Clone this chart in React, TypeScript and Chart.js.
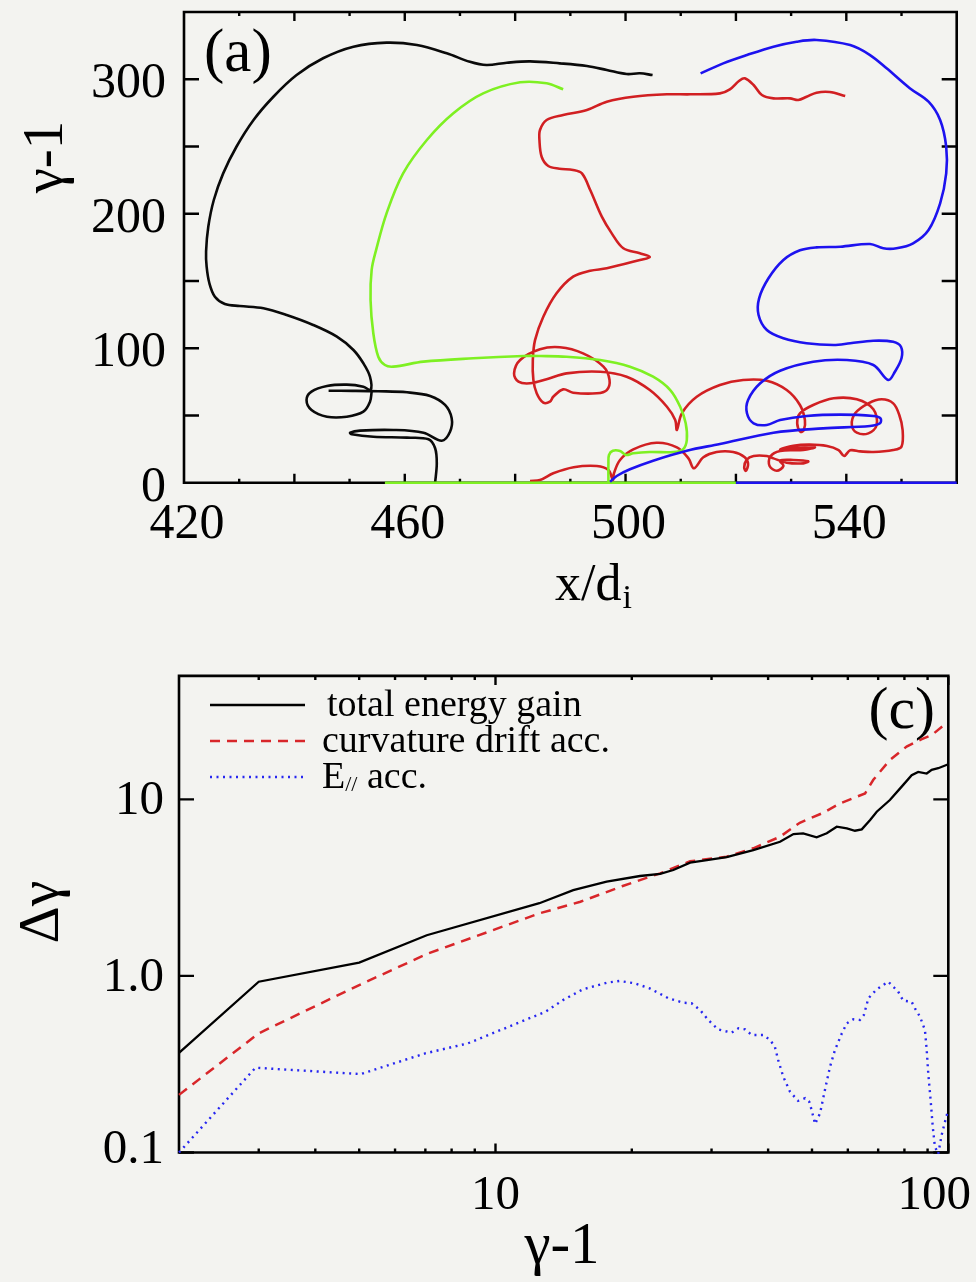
import React, { useEffect, useRef } from "react";
import { Chart, registerables } from "chart.js";

Chart.register(...registerables);

const SERIF = '"Liberation Serif", "Times New Roman", Times, serif';
const PAGE_BG = "#f3f3f0";

// ---------------- panel (a): trajectories ----------------
const trajXTickLabels = [420, 460, 500, 540];
const trajYTickLabels = [0, 100, 200, 300];
const trajXMajor = [440, 460, 480, 500, 520, 540];
const trajXMinor = [430, 450, 470, 490, 510, 530, 550];
const trajYTicks = [50, 100, 150, 200, 250, 300];

const blackLow = [
  [465.5, 0], [465.8, 14.4], [465.5, 25.6], [464.3, 32.3], [460.4, 33.5], [454.3, 34.2], [450.4, 36],
  [450.1, 37.2], [451.9, 38.7], [457.9, 39.2], [463.4, 37.2], [466.7, 31.2], [468.2, 37.9], [468.5, 47.9],
  [467.3, 57.8], [464.6, 64.5], [460.4, 67.2], [455.2, 68], [450.5, 68.3], [446.2, 68.4],
];
const blackHigh = [
  [454.0, 67.7], [453.7, 60.2], [452.5, 52.8], [449.5, 49.1], [445.9, 49.1], [443.1, 54.1], [442.2, 61.5],
  [443.1, 67.7], [445.9, 71.9], [449.5, 72.9], [452.5, 71.4], [453.8, 68.9], [453.7, 78.8], [452.5, 88.8],
  [450.7, 98.7], [447.7, 108.6], [443.4, 117.3], [438.6, 124.7], [434.4, 129.7], [430.1, 131.4], [427.4, 132.9],
  [425.6, 138.3], [424.6, 148.3], [424.1, 160.6], [424, 172], [424.4, 190.3], [425.4, 210.2], [427.1, 230],
  [429.5, 249.8], [432.6, 269.7], [436.2, 287], [440.4, 303.1], [445.2, 315.6], [450.7, 324.2], [456.7, 327.2],
  [462.2, 325.4], [467.6, 319.3], [471.8, 313], [474.8, 310.6], [478.5, 312.3], [482.7, 313.3], [488.1, 311.8],
  [493, 309.8], [496.6, 306.9], [500.2, 303.9], [502.6, 304.4], [504.9, 303.1],
];
const greenBase = [[456.4, 0], [520, 0]];
const greenPath = [
  [496.9, 0], [496.9, 14.4], [497, 20.6], [497.7, 23.8], [499, 23.6], [500.1, 20.6], [501.4, 21.9],
  [504.4, 22.8], [508.7, 22.8], [510.4, 24.8], [511.1, 31.7], [510.9, 44.2], [509.9, 56.5], [508.1, 68.9],
  [505, 78.8], [500.8, 86.3], [495.4, 91.2], [489.3, 93.7], [484.5, 94.2], [481.5, 94.2], [472.4, 92.5],
  [463.4, 90], [457.9, 86.3], [456.4, 87.5], [455.2, 93.7], [454.3, 111.1], [453.8, 135.9], [454, 158.2],
  [454.8, 172.9], [456.7, 200.3], [459.7, 230], [464, 254.8], [468.8, 274.7], [474.2, 289.5], [480.9, 297.7],
  [485.7, 297], [488.7, 292.5],
];
const redPath = [
  [482.7, 1.3], [484.5, 2], [486.9, 7], [490.6, 11.5], [494.8, 12.4], [496.9, 9.4], [497.7, 2], [497.9, 7],
  [499, 16.9], [501.4, 24.8], [505.6, 29.7], [509.3, 26.3], [511.4, 18.1], [512.4, 10.7], [514.1, 18.9],
  [516.5, 22.8], [519.5, 22.8], [521.6, 18.9], [522.2, 13.9], [521.8, 8.9], [521.5, 11.5], [521.9, 16.9],
  [523.2, 19.9], [525.6, 19.9], [526.8, 18.1], [529.2, 14.9], [532.2, 14.4], [533.1, 15.9], [530.4, 16.9],
  [528, 16.4], [528.6, 12.4], [527.4, 8.9], [526.1, 12.4], [526.2, 19.3], [528, 23.6], [532.2, 24.3],
  [534.3, 26.3], [530.4, 25.8], [528, 24.8], [530.4, 27.5], [533.4, 28.3], [536.5, 27.3], [538.6, 24.3],
  [539.6, 19.9], [540.7, 24.1], [542.5, 23.3], [544.9, 22.8], [548.5, 24.3], [550, 26.8], [550.2, 39.2],
  [549.6, 50.3], [548.5, 59], [546.4, 62], [544, 59], [541.6, 51.6], [541, 42.9], [541.9, 37.2], [544, 36.7],
  [545.5, 42.9], [544.9, 54.6], [541.9, 62], [537.7, 62.8], [534, 57.8], [531.6, 51.6], [531.1, 44.2],
  [531.7, 37.9], [532.3, 39.2], [532.5, 46.6], [531.6, 57.8], [529.2, 68.9], [525.6, 75.8], [521.3, 76.4],
  [517.1, 72.6], [512.9, 63.9], [510.2, 51.6], [509.3, 39.2], [509, 46.6], [507.5, 56.5], [504.4, 68.9],
  [500.2, 78.8], [495.4, 82.5], [489.3, 81.3], [485.7, 76.9], [482.7, 73.9], [480.6, 75.1], [479.8, 81.3],
  [480.9, 91.2], [484.5, 99.2], [488.1, 100.7], [492.3, 96.2], [496, 86.3], [497.1, 76.4], [496.6, 68.9],
  [494.8, 66.5], [490.5, 66.9], [488.7, 69.4], [486.9, 63.9], [486.3, 60.2], [485.1, 59.5], [483.9, 66.5],
  [483.3, 76.4], [483.2, 91.2], [483.6, 106], [485.1, 123.4], [487.5, 140.8], [490.5, 153.2], [493.6, 157.6],
  [496.6, 159.4], [502.6, 165.6], [504.4, 167.8], [502.6, 170.6], [499.6, 174.3], [497.5, 185.4],
  [495.7, 197.8], [493.6, 217.6], [492.1, 230], [490.5, 232.5], [488, 233.5], [486, 235.5], [484.8, 242.4],
  [484.4, 254.8], [484.5, 262.3], [485.7, 269.7], [488.7, 273.4], [493, 277.1], [496.6, 283.3], [501.4, 287],
  [507.5, 288.8], [511.7, 288.8], [517.1, 289.5], [518.9, 292.5], [520.6, 298.9], [521.6, 300.7],
  [523.2, 295.7], [524.7, 288.3], [526.8, 285.8], [529.8, 285.8], [531.3, 284.6], [532.8, 287], [534.6, 290],
  [537, 290.5], [539.8, 287.5],
];
const blueBase = [[520, 0], [560, 0]];
const bluePath = [
  [497.2, 0.7], [498.4, 5], [500.8, 10], [505, 16.4], [511.1, 23.8], [517.1, 28.8], [526.8, 37.2],
  [535.8, 40.4], [544.3, 42.2], [546.1, 44.2], [546.2, 47.9], [544.9, 49.6], [538.9, 50.6], [532.8, 49.6],
  [528, 46.6], [525.6, 42.9], [523.2, 44.2], [522, 51.6], [522.2, 61.5], [524.4, 73.9], [528, 83.3],
  [534, 90], [540.1, 91.2], [544.9, 87.5], [547.6, 76.4], [548.8, 82.5], [550, 92.5], [549.9, 101.1],
  [548.5, 104.8], [544.9, 105.6], [540.7, 103.7], [537.7, 102.4], [532.8, 103.7], [528.6, 107.4],
  [525.6, 113.5], [524.1, 124.7], [524.2, 137.1], [525.9, 152], [528.6, 165.6], [531.6, 172.8], [534.6, 175],
  [538.9, 175.5], [544.3, 177.5], [546.7, 174.3], [549.1, 174.3], [552.1, 178], [554.9, 187.9], [557, 207.7],
  [558.1, 230], [558.1, 249.8], [557, 269.7], [554.9, 283.3], [551.5, 293.3], [547.3, 308.1], [544.3, 318],
  [540.7, 325.4], [534.6, 329.2], [531, 327.9], [526.8, 324.2], [522, 318], [517.7, 311.8], [513.6, 304.4],
];

// ---------------- panel (c): energy gain ----------------
const gammaTotal = [2, 3, 5, 7.05, 12.5, 14.85, 17.6, 20.85, 23.1, 24.7, 26.9, 29.3, 32.4, 37.1, 42.5, 45.5, 47.8, 51.2, 53.9, 56.7, 59.7, 62.2, 64.4, 67.2, 69.5, 74.3, 78.9, 83, 85.8, 89.6, 91.9, 95, 100];
const gainTotal = [0.367, 0.927, 1.19, 1.7, 2.58, 3.06, 3.42, 3.68, 3.78, 3.98, 4.38, 4.53, 4.7, 5.16, 5.75, 6.36, 6.42, 6.09, 6.42, 7.0, 6.85, 6.64, 6.76, 7.64, 8.51, 9.91, 11.8, 13.7, 14.3, 14.0, 14.7, 15.0, 15.8];
const gammaCurv = [2, 3, 5, 7.1, 12.5, 15.4, 19.1, 23.1, 26.9, 32.4, 37.1, 42.5, 47, 53, 57.7, 65.5, 68.3, 74.3, 80.9, 87.4, 91.9, 97.8, 100];
const gainCurv = [0.212, 0.473, 0.888, 1.34, 2.26, 2.63, 3.23, 3.81, 4.46, 4.73, 5.28, 6.14, 7.37, 8.4, 9.49, 10.8, 12.9, 16.7, 19.9, 21.9, 23.1, 26.3, 27];
const gammaEpar = [2, 2.95, 5.04, 6.99, 8.69, 12.9, 14.1, 15.6, 17.6, 18.8, 20.3, 21.9, 24.1, 26, 27.1, 28.3, 29.5, 31, 33.2, 34.4, 35.6, 36.8, 39, 40.4, 41.4, 42.1, 43.2, 44.7, 46.6, 48.3, 49.3, 49.9, 50.8, 52.1, 53.4, 54.8, 56.2, 58.2, 59.7, 61.7, 63.8, 65.1, 66.6, 69.5, 73.7, 77.5, 79.5, 83, 84.4, 86.6, 88.8, 89.6, 90.3, 91.4, 92.4, 93.4, 95, 96.7, 98.3, 100];
const gainEpar = [0.1, 0.302, 0.278, 0.364, 0.415, 0.627, 0.73, 0.84, 0.915, 0.936, 0.908, 0.85, 0.747, 0.705, 0.7, 0.641, 0.563, 0.498, 0.477, 0.505, 0.498, 0.463, 0.463, 0.434, 0.397, 0.334, 0.269, 0.221, 0.196, 0.203, 0.194, 0.174, 0.145, 0.167, 0.226, 0.306, 0.381, 0.473, 0.539, 0.568, 0.563, 0.601, 0.747, 0.84, 0.927, 0.814, 0.724, 0.714, 0.655, 0.587, 0.494, 0.381, 0.281, 0.198, 0.14, 0.108, 0.098, 0.126, 0.149, 0.175];
const seriesLabels = ["total energy gain", "curvature drift acc.", "E// acc."];
const specXMajor = [10, 100];
const specXMinor = [3, 4, 5, 6, 7, 8, 9, 20, 30, 40, 50, 60, 70, 80, 90];
const specYMajor = [0.1, 1, 10];
const specXTickLabels = ["10", "100"];
const specYTickLabels = ["0.1", "1.0", "10"];

const C_BLACK = "#0a0a0a";
const C_GREEN = "#7ef022";
const C_RED = "#d11f22";
const C_BLUE = "#1d12ef";
const C_RED2 = "#d8262a";
const C_BLUE2 = "#2626f0";

const pairs = (a: number[][]) => a.map(([x, y]) => ({ x, y }));
const zip = (xs: number[], ys: number[]) => xs.map((x, i) => ({ x, y: ys[i] }));

function frameAndTicks(chart: any, xt: { v: number; len: number }[], yt: { v: number; len: number }[]) {
  const { ctx, chartArea: a, scales } = chart;
  ctx.save();
  ctx.strokeStyle = "#000";
  ctx.lineWidth = 2.6;
  ctx.beginPath();
  ctx.rect(a.left, a.top, a.right - a.left, a.bottom - a.top);
  ctx.stroke();
  ctx.lineWidth = 2.4;
  ctx.beginPath();
  for (const t of xt) {
    const p = scales.x.getPixelForValue(t.v);
    ctx.moveTo(p, a.bottom);
    ctx.lineTo(p, a.bottom - t.len);
    ctx.moveTo(p, a.top);
    ctx.lineTo(p, a.top + t.len);
  }
  for (const t of yt) {
    const p = scales.y.getPixelForValue(t.v);
    ctx.moveTo(a.left, p);
    ctx.lineTo(a.left + t.len, p);
    ctx.moveTo(a.right, p);
    ctx.lineTo(a.right - t.len, p);
  }
  ctx.stroke();
  ctx.restore();
}

const panelAPlugin = {
  id: "panelA",
  beforeDatasetsDraw(chart: any) {
    frameAndTicks(
      chart,
      [...trajXMajor.map((v) => ({ v, len: 9 })), ...trajXMinor.map((v) => ({ v, len: 4 }))],
      trajYTicks.map((v) => ({ v, len: 15 }))
    );
  },
  afterDraw(chart: any) {
    const { ctx, scales } = chart;
    ctx.save();
    ctx.fillStyle = "#000";
    ctx.font = `50px ${SERIF}`;
    ctx.textBaseline = "alphabetic";
    ctx.textAlign = "center";
    for (const v of trajXTickLabels) ctx.fillText(String(v), scales.x.getPixelForValue(v) + 3, 538);
    ctx.textAlign = "right";
    for (const v of trajYTickLabels) ctx.fillText(String(v), 166, scales.y.getPixelForValue(v) + 18);
    // panel label
    ctx.textAlign = "left";
    ctx.font = `61px ${SERIF}`;
    ctx.fillText("(a)", 204, 71);
    // x title x/d_i
    ctx.font = `52px ${SERIF}`;
    const w1 = ctx.measureText("x/d").width;
    ctx.font = `34px ${SERIF}`;
    const w2 = ctx.measureText("i").width;
    const sx = 593 - (w1 + w2) / 2;
    ctx.font = `52px ${SERIF}`;
    ctx.fillText("x/d", sx, 600);
    ctx.font = `34px ${SERIF}`;
    ctx.fillText("i", sx + w1 + 1, 608);
    // y title
    ctx.save();
    ctx.translate(62, 157);
    ctx.rotate(-Math.PI / 2);
    ctx.textAlign = "center";
    ctx.font = `57px ${SERIF}`;
    ctx.fillText("γ-1", 0, 0);
    ctx.restore();
    ctx.restore();
  },
};

const panelCPlugin = {
  id: "panelC",
  beforeDatasetsDraw(chart: any) {
    frameAndTicks(
      chart,
      [...specXMajor.map((v) => ({ v, len: 9 })), ...specXMinor.map((v) => ({ v, len: 4 }))],
      specYMajor.map((v) => ({ v, len: 15 }))
    );
  },
  afterDraw(chart: any) {
    const { ctx, scales, chartArea: a, width } = chart;
    ctx.save();
    ctx.fillStyle = "#000";
    ctx.font = `49px ${SERIF}`;
    ctx.textBaseline = "alphabetic";
    ctx.textAlign = "center";
    specXMajor.forEach((v, i) => {
      const txt = specXTickLabels[i];
      const w = ctx.measureText(txt).width;
      const p = Math.min(scales.x.getPixelForValue(v), width - w / 2 - 5);
      ctx.fillText(txt, p, 569);
    });
    ctx.textAlign = "right";
    specYMajor.forEach((v, i) => {
      const p = scales.y.getPixelForValue(v);
      ctx.fillText(specYTickLabels[i], 164, Math.min(p + 15, a.bottom + 10));
    });
    // panel label
    ctx.font = `60px ${SERIF}`;
    ctx.fillText("(c)", 935, 88);
    // legend
    const ds = chart.data.datasets;
    const rows = [65, 101, 137];
    ds.forEach((d: any, i: number) => {
      const y = rows[i];
      ctx.save();
      ctx.strokeStyle = d.borderColor;
      ctx.lineWidth = d.borderWidth;
      ctx.setLineDash(d.borderDash || []);
      ctx.beginPath();
      ctx.moveTo(210, y);
      ctx.lineTo(305, y);
      ctx.stroke();
      ctx.restore();
      ctx.textAlign = "left";
      ctx.font = `38px ${SERIF}`;
      const tx = i === 0 ? 327 : 322;
      const label: string = seriesLabels[i];
      if (label.startsWith("E//")) {
        ctx.fillText("E", tx, y + 11);
        const we = ctx.measureText("E").width;
        ctx.font = `22px ${SERIF}`;
        ctx.fillText("//", tx + we, y + 14);
        const ws = ctx.measureText("//").width;
        ctx.font = `38px ${SERIF}`;
        ctx.fillText(label.slice(3), tx + we + ws, y + 11);
      } else {
        ctx.fillText(label, tx, y + 11);
      }
    });
    // axis titles
    ctx.textAlign = "center";
    ctx.font = `59px ${SERIF}`;
    ctx.fillText("γ-1", 562, 623);
    ctx.save();
    ctx.translate(58, 272);
    ctx.rotate(-Math.PI / 2);
    ctx.font = `58px ${SERIF}`;
    ctx.fillText("Δγ", 0, 0);
    ctx.restore();
    ctx.restore();
  },
};

export default function App() {
  const refA = useRef<HTMLCanvasElement>(null);
  const refC = useRef<HTMLCanvasElement>(null);

  useEffect(() => {
    const traj = (data: number[][], color: string, tension = 0.35) => ({
      data: pairs(data),
      borderColor: color,
      borderWidth: 2.6,
      pointRadius: 0,
      tension,
      fill: false,
      clip: 4,
    });
    const chartA = new Chart(refA.current as HTMLCanvasElement, {
      type: "line",
      data: {
        datasets: [
          traj(bluePath, C_BLUE),
          traj(blueBase, C_BLUE, 0),
          traj(greenPath, C_GREEN),
          traj(greenBase, C_GREEN, 0),
          traj(redPath, C_RED),
          traj(blackLow, C_BLACK),
          traj(blackHigh, C_BLACK),
        ] as any,
      },
      options: {
        responsive: false,
        animation: false,
        devicePixelRatio: 1,
        events: [],
        layout: { padding: { left: 184, top: 12, right: 19.3, bottom: 157.3 } },
        scales: {
          x: { type: "linear", min: 420, max: 560, display: false },
          y: { type: "linear", min: 0, max: 350, display: false },
        },
        plugins: { legend: { display: false }, tooltip: { enabled: false } },
      } as any,
      plugins: [panelAPlugin],
    });

    const chartC = new Chart(refC.current as HTMLCanvasElement, {
      type: "line",
      data: {
        datasets: [
          { label: seriesLabels[0], data: zip(gammaTotal, gainTotal), borderColor: "#000", borderWidth: 2.3, pointRadius: 0, tension: 0, clip: 3 },
          { label: seriesLabels[1], data: zip(gammaCurv, gainCurv), borderColor: C_RED2, borderWidth: 2.5, borderDash: [10, 7], pointRadius: 0, tension: 0, clip: 3 },
          { label: seriesLabels[2], data: zip(gammaEpar, gainEpar), borderColor: C_BLUE2, borderWidth: 2.4, borderDash: [2, 4.5], pointRadius: 0, tension: 0, clip: 3 },
        ] as any,
      },
      options: {
        responsive: false,
        animation: false,
        devicePixelRatio: 1,
        events: [],
        layout: { padding: { left: 179, top: 35.9, right: 27.7, bottom: 129.5 } },
        scales: {
          x: { type: "logarithmic", min: 2, max: 100, display: false },
          y: { type: "logarithmic", min: 0.1, max: 50, display: false },
        },
        plugins: { legend: { display: false }, tooltip: { enabled: false } },
      } as any,
      plugins: [panelCPlugin],
    });

    return () => {
      chartA.destroy();
      chartC.destroy();
    };
  }, []);

  return (
    <div style={{ position: "absolute", left: 0, top: 0, width: 976, height: 1282, background: PAGE_BG, overflow: "hidden" }}>
      <canvas ref={refA} width={976} height={640} style={{ position: "absolute", left: 0, top: 0, width: 976, height: 640 }} />
      <canvas ref={refC} width={976} height={642} style={{ position: "absolute", left: 0, top: 640, width: 976, height: 642 }} />
    </div>
  );
}
